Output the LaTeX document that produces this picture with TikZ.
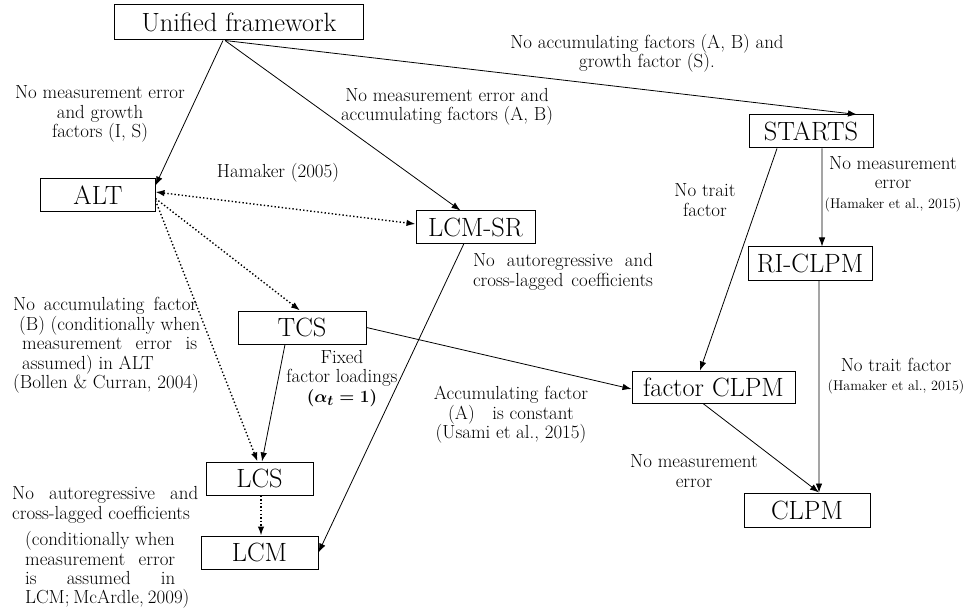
\documentclass[tikz,border=0pt]{standalone}
\usepackage{fontspec}
\usepackage{amsmath}
\usetikzlibrary{arrows.meta}
% stretch the interword spaces of a line to a fixed width
\newcommand{\spreadto}[2]{\makebox[#1][s]{#2}}
\newcommand{\citesize}{\fontsize{14.2}{16}\selectfont}
\begin{document}
\begin{tikzpicture}[x=1bp,y=-1bp,
  model/.style={draw, line width=1bp, inner sep=0pt, font=\fontsize{26.5}{30}\selectfont},
  note/.style={inner sep=0pt, align=center, font=\fontsize{19}{19.5}\selectfont},
  tip/.tip={Latex[length=9bp,width=6.5bp]},
  link/.style={line width=0.8bp, -tip},
  dotlink/.style={line width=1.4bp, dash pattern=on 1.4bp off 2.2bp, -tip},
  dotboth/.style={dotlink, tip-tip}
]
\useasboundingbox (0,0) rectangle (963,611);

% models
\node[model, minimum width=248bp, minimum height=35bp] (uf) at (239,22.5) {Unified framework};
\node[model, minimum width=114bp, minimum height=33bp] (alt) at (98,195.5) {ALT};
\node[model, minimum width=119bp, minimum height=32bp] (lcmsr) at (475.5,227) {LCM-SR};
\node[model, minimum width=128bp, minimum height=33bp] (tcs) at (302,327.5) {TCS};
\node[model, minimum width=107bp, minimum height=33bp] (lcs) at (259.5,478.5) {LCS};
\node[model, minimum width=117bp, minimum height=33bp] (lcm) at (259.5,552.5) {LCM};
\node[model, minimum width=124bp, minimum height=33bp] (starts) at (811,131.5) {STARTS};
\node[model, minimum width=124bp, minimum height=33bp] (riclpm) at (810,263.5) {RI-CLPM};
\node[model, minimum width=163bp, minimum height=32bp] (fclpm) at (713.5,387) {factor CLPM};
\node[model, minimum width=126bp, minimum height=34bp] (clpm) at (807,510) {CLPM};

% restrictions
\draw[link] ([xshift=-16bp]uf.south) -- ([yshift=-7bp]alt.north east);
\draw[link] ([xshift=-14bp]uf.south) -- ([xshift=-15bp]lcmsr.north);
\draw[link] ([xshift=-14bp]uf.south) -- ([xshift=46bp]starts.north);
\draw[dotboth] ([yshift=3.5bp]alt.east) -- ([yshift=3bp]lcmsr.west);
\draw[dotlink] ([yshift=-3bp]alt.east) -- ([xshift=-2bp]tcs.north);
\draw[dotlink] ([yshift=-5bp]alt.east) -- ([xshift=-2bp]lcs.north);
\draw[link] ([xshift=-17bp]tcs.south) -- ([xshift=2.5bp]lcs.north);
\draw[dotlink] ([xshift=1.5bp]lcs.south) -- ([xshift=1.5bp]lcm.north);
\draw[link] ([xshift=-11.5bp]lcmsr.south) -- (lcm.east);
\draw[link] (tcs.east) -- ([yshift=-2bp]fclpm.west);
\draw[link] ([xshift=-34bp]starts.south) -- ([xshift=-13.5bp]fclpm.north);
\draw[link] ([xshift=11bp]starts.south) -- ([xshift=12bp]riclpm.north);
\draw[link] ([xshift=9bp]riclpm.south) -- ([xshift=12bp]clpm.north);
\draw[link] ([xshift=-10.5bp]fclpm.south) -- ([xshift=12bp]clpm.north);

% labels
\node[note] (l1) at (100,114) {No measurement error\\and growth\\factors (I, S)};
\node[note] (l2) at (278,173) {Hamaker (2005)};
\node[note] (l3) at (447,107) {No measurement error and\\accumulating factors (A, B)};
\node[note] (l4) at (647,53) {No accumulating factors (A, B) and\\growth factor (S).};
\node[note] (l5) at (705,200) {No trait\\factor};
\node[note] (l6) at (893,184) {No measurement\\error\\{\citesize (Hamaker et al., 2015)}};
\node[note] (l7) at (563,272) {\spreadto{180bp}{No autoregressive and}\\\spreadto{180bp}{cross-lagged coefficients}};
\node[note, align=left, anchor=west] (l8) at (13,345.5)
  {\spreadto{184bp}{No accumulating factor}\\
   \hspace*{6bp}(B) (conditionally when\\
   \hspace*{9bp}\spreadto{175bp}{measurement error is}\\
   \hspace*{9bp}assumed) in ALT\\
   (Bollen \& Curran, 2004)};
\node[note] (l9) at (342,378.5) {Fixed\\factor loadings\\{\boldmath$(\alpha_t = 1)$}};
\node[note] (l10) at (511,415) {Accumulating factor\\(A)\hspace{12bp} is constant\\(Usami et al., 2015)};
\node[note] (l11) at (694,471) {No measurement\\error};
\node[note] (l12) at (896,376) {No trait factor\\{\citesize (Hamaker et al., 2015)}};
\node[note, align=left, anchor=west] (l13) at (12,505)
  {\spreadto{186bp}{No autoregressive and}\\
   cross-lagged coefficients};
\node[note, align=left, anchor=west] (l14) at (25,570)
  {(conditionally when\\
   \spreadto{150bp}{measurement error}\\
   \spreadto{150bp}{is assumed in}\\
   \spreadto{150bp}{LCM; McArdle, 2009)}};
\end{tikzpicture}
\end{document}
